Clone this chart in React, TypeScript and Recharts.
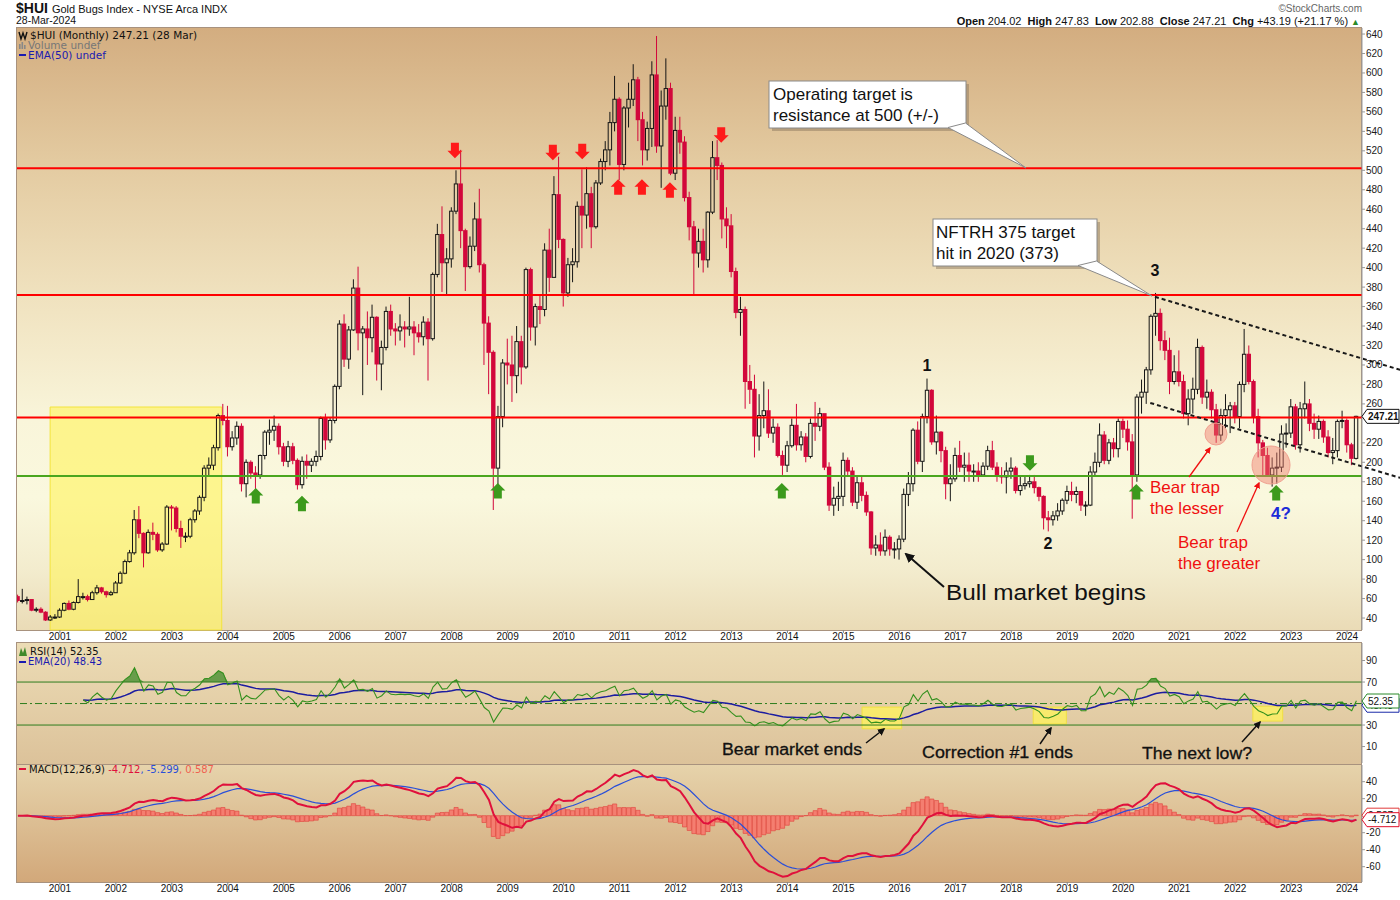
import React from "react";
import {
  ComposedChart, Bar, Line, Area, XAxis, YAxis, ReferenceLine, ReferenceArea, ReferenceDot,
} from "recharts";

// monthly candles, Apr 2000 .. Mar 2024 (open = previous close)
const START_YEAR = 2000;
const START_MONTH = 3; // April
const FIRST_OPEN = 62;

const close = [
  58, 58, 59, 48, 49, 46, 38, 41, 41, // 2000 (Apr-Dec)
  48, 55, 49, 56, 62, 62, 59, 66, 71, 67, 64, 66, // 2001
  76, 86, 98, 107, 141, 127, 107, 128, 126, 110, 116, 154, // 2002
  153, 132, 124, 124, 141, 150, 164, 194, 197, 215, 248, 243, // 2003
  216, 225, 237, 178, 200, 189, 187, 207, 231, 233, 237, 216, // 2004
  201, 216, 202, 177, 201, 197, 201, 206, 245, 223, 243, 278, // 2005
  342, 306, 336, 379, 333, 337, 328, 349, 301, 318, 355, 337, // 2006
  335, 339, 337, 339, 333, 329, 344, 327, 393, 434, 405, 409, // 2007
  458, 486, 438, 401, 422, 450, 403, 343, 313, 194, 247, 302, // 2008
  300, 289, 324, 298, 398, 339, 360, 357, 418, 390, 475, 429, // 2009
  374, 403, 406, 463, 454, 476, 442, 487, 509, 521, 549, 573, // 2010
  506, 564, 573, 593, 552, 521, 543, 598, 525, 566, 584, 497, // 2011
  541, 529, 472, 442, 415, 427, 408, 457, 513, 505, 450, 443, // 2012
  396, 354, 357, 283, 275, 227, 248, 253, 230, 236, 207, 197, // 2013
  217, 238, 218, 226, 206, 240, 237, 250, 195, 156, 163, 165, // 2014
  202, 191, 159, 179, 166, 149, 112, 115, 109, 123, 111, 111, // 2015
  121, 167, 178, 233, 201, 247, 274, 221, 231, 212, 178, 183, // 2016
  207, 195, 197, 191, 191, 187, 196, 212, 195, 186, 185, 191, // 2017
  194, 171, 176, 178, 180, 174, 165, 143, 141, 145, 150, 161, // 2018
  170, 167, 170, 156, 156, 190, 200, 228, 202, 220, 214, 242, // 2019
  234, 221, 187, 267, 272, 295, 350, 353, 325, 315, 283, 293, // 2020
  283, 250, 265, 275, 318, 267, 272, 254, 228, 248, 254, 258, // 2021
  247, 280, 311, 283, 247, 220, 207, 187, 194, 195, 229, 230, // 2022
  257, 218, 255, 260, 240, 234, 242, 226, 210, 212, 242, 243, // 2023
  218, 204.02, 247.21, // 2024
];

const high = [
  64, 70, 62, 59, 51, 51, 47, 43, 44,
  50, 56, 58, 57, 80, 66, 64, 68, 74, 72, 68, 68,
  78, 88, 100, 110, 151, 155, 128, 131, 138, 128, 118, 156,
  156, 155, 140, 128, 143, 152, 166, 197, 205, 218, 250, 260,
  258, 232, 242, 240, 203, 202, 196, 208, 233, 244, 248, 240,
  220, 222, 220, 204, 206, 208, 204, 212, 247, 250, 246, 280,
  346, 352, 340, 388, 401, 340, 355, 362, 350, 325, 360, 362,
  343, 352, 345, 370, 345, 342, 350, 348, 395, 445, 463, 420,
  462, 500, 521, 440, 432, 467, 481, 405, 350, 315, 258, 306,
  327, 330, 340, 330, 400, 400, 363, 372, 425, 440, 494, 514,
  430, 410, 420, 468, 501, 503, 483, 490, 512, 530, 560, 597,
  575, 566, 590, 609, 596, 560, 550, 612, 638, 582, 615, 590,
  555, 555, 535, 478, 448, 440, 440, 458, 530, 531, 508, 462,
  455, 400, 370, 360, 300, 290, 270, 283, 275, 245, 240, 212,
  222, 245, 260, 232, 230, 245, 262, 256, 248, 200, 175, 180,
  210, 205, 195, 185, 185, 170, 150, 125, 128, 131, 125, 118,
  125, 173, 190, 235, 242, 250, 286, 275, 248, 232, 216, 198,
  215, 222, 210, 210, 198, 200, 200, 217, 222, 200, 195, 200,
  205, 196, 185, 185, 187, 187, 175, 166, 150, 150, 158, 163,
  176, 180, 175, 170, 160, 196, 210, 240, 232, 224, 225, 245,
  245, 243, 229, 270, 285, 298, 352, 374, 358, 335, 328, 310,
  315, 290, 275, 287, 327, 320, 285, 275, 260, 255, 270, 262,
  262, 283, 337, 320, 285, 255, 223, 215, 205, 210, 238, 240,
  265, 260, 262, 283, 265, 250, 248, 244, 233, 225, 244, 253,
  245, 220, 247.83,
];

const low = [
  56, 55, 54, 47, 46, 45, 37, 37, 39,
  40, 47, 48, 48, 55, 59, 57, 59, 64, 65, 61, 63,
  66, 75, 85, 97, 105, 122, 92, 106, 120, 108, 108, 115,
  130, 128, 112, 118, 122, 138, 146, 160, 185, 192, 212, 238,
  206, 212, 218, 170, 164, 183, 172, 183, 203, 218, 222, 208,
  196, 195, 198, 172, 173, 183, 190, 196, 202, 213, 220, 240,
  275, 298, 296, 335, 315, 269, 300, 313, 284, 274, 315, 330,
  320, 325, 318, 330, 310, 323, 320, 284, 325, 390, 375, 372,
  400, 455, 420, 376, 399, 417, 395, 300, 270, 151, 164, 236,
  280, 262, 271, 280, 296, 325, 320, 342, 350, 375, 390, 420,
  360, 370, 385, 400, 420, 440, 420, 440, 485, 500, 505, 540,
  490, 500, 544, 566, 530, 505, 510, 524, 518, 482, 552, 495,
  490, 517, 468, 428, 372, 400, 395, 400, 455, 490, 430, 420,
  390, 348, 330, 255, 260, 205, 212, 235, 225, 220, 205, 187,
  190, 215, 212, 212, 200, 204, 222, 232, 192, 150, 145, 150,
  155, 185, 155, 152, 160, 145, 105, 104, 104, 104, 104, 101,
  100, 118, 155, 170, 198, 190, 240, 218, 208, 200, 162, 160,
  180, 190, 180, 180, 180, 180, 185, 192, 192, 180, 178, 168,
  183, 168, 166, 172, 174, 168, 160, 131, 129, 135, 140, 146,
  157, 160, 158, 150, 145, 155, 185, 195, 198, 198, 205, 205,
  225, 212, 142, 180, 250, 260, 290, 330, 315, 305, 270, 280,
  278, 245, 238, 250, 270, 260, 255, 245, 220, 222, 235, 230,
  240, 235, 272, 280, 240, 205, 185, 186, 175, 178, 190, 215,
  225, 213, 210, 245, 232, 224, 224, 220, 205, 198, 205, 235,
  210, 197, 202.88,
];

// axis ticks (the boxed values are the last readings)
const priceTicks = [40, 60, 80, 100, 120, 140, 160, 180, 200, 220, 260, 280, 300, 320, 340, 360, 380, 400,
  420, 440, 460, 480, 500, 520, 540, 560, 580, 600, 620, 640, 247.21];
const rsiTicks = [10, 30, 70, 90, 48.43, 52.35];
const macdTicks = [-60, -40, -20, 20, 40, 0.587, -4.712];

// horizontal support / resistance levels
const redLevels = [502, 372, 246];
const greenLevel = 186;

// marker arrows: [month index, price]
const redDownArrows = [[93.7, 520], [114.7, 518], [121, 519], [150.8, 536]];
const redUpArrows = [[128.7, 483], [133.8, 483], [139.8, 480]];
const greenUpArrows = [[51, 166], [60.9, 158], [102.9, 171], [163.8, 171], [239.8, 170], [269.8, 169]];
const greenDownArrows = [[217, 199]];

// dashed trend channel: [month, price] pairs
const upperTrend = [[243.8, 370], [296.4, 295]];
const lowerTrend = [[242.8, 261], [296.4, 184]];

const X_DOMAIN: [number, number] = [-0.2, 288.2];
const AXIS_FONT = "'Liberation Sans', Arial, sans-serif";
const LEGEND_FONT = "'DejaVu Sans', Verdana, sans-serif";

function emaOf(values: (number | null)[], n: number) {
  const k = 2 / (n + 1);
  let prev: number | null = null;
  return values.map((v) => {
    if (v == null) return null;
    prev = prev == null ? v : v * k + prev * (1 - k);
    return prev;
  });
}

function rsiOf(c: number[], n: number) {
  const out: (number | null)[] = c.map(() => null);
  let ag = 0;
  let al = 0;
  for (let i = 1; i < c.length; i++) {
    const d = c[i] - c[i - 1];
    const g = Math.max(d, 0);
    const l = Math.max(-d, 0);
    if (i <= n) {
      ag += g / n;
      al += l / n;
    } else {
      ag = (ag * (n - 1) + g) / n;
      al = (al * (n - 1) + l) / n;
    }
    if (i >= n) out[i] = al === 0 ? 100 : 100 - 100 / (1 + ag / al);
  }
  return out;
}

const rsi = rsiOf(close, 14);
const rsiEma = emaOf(rsi, 20);
const ema12 = emaOf(close, 12);
const ema26 = emaOf(close, 26);
const macd = close.map((_, i) => (ema12[i] as number) - (ema26[i] as number));
const signal = emaOf(macd, 9);
const hist = macd.map((m, i) => m - (signal[i] as number));

const rows = close.map((c, i) => {
  const open = i === 0 ? FIRST_OPEN : close[i - 1];
  return {
    i,
    open,
    close: c,
    high: Math.max(high[i], open, c),
    low: Math.min(low[i], open, c),
    rsi: rsi[i],
    rsiEma: rsiEma[i],
    macd: macd[i],
    signal: signal[i],
    hist: hist[i],
  };
});

const monthOf = (i: number) => (START_MONTH + i) % 12;
const yearOf = (i: number) => START_YEAR + Math.floor((START_MONTH + i) / 12);
const yearTicks = rows.filter((r) => monthOf(r.i) === 0).map((r) => r.i);

function Candle(props: any) {
  const { x, y, width, height, payload } = props;
  if (!payload || x == null) return null;
  const top = Math.min(y, y + height);
  const h = Math.abs(height);
  const { open, close: c, high: hi, low: lo } = payload;
  const per = hi > lo ? h / (hi - lo) : 0;
  const py = (v: number) => top + (hi - v) * per;
  const cx = x + width / 2;
  const up = c >= open;
  const color = up ? "#151515" : "#d2073b";
  const bTop = py(Math.max(open, c));
  const bh = Math.max(py(Math.min(open, c)) - bTop, 1);
  const bw = 3.4;
  return (
    <g>
      <line x1={cx} x2={cx} y1={top} y2={bTop} stroke={color} strokeWidth={1} />
      <line x1={cx} x2={cx} y1={bTop + bh} y2={top + h} stroke={color} strokeWidth={1} />
      {up ? (
        <rect x={cx - bw / 2} y={bTop} width={bw} height={bh} fill="none" stroke={color} strokeWidth={1} />
      ) : (
        <rect x={cx - bw / 2 - 0.5} y={bTop - 0.5} width={bw + 1} height={bh + 1} fill={color} />
      )}
    </g>
  );
}

const arrowShape = (dir: "up" | "down", color: string) => (p: any) => {
  const { cx, cy } = p;
  const s = dir === "down" ? 1 : -1;
  const pts = [
    [cx - 4, cy - 8 * s], [cx + 4, cy - 8 * s], [cx + 4, cy], [cx + 7.5, cy],
    [cx, cy + 7.5 * s], [cx - 7.5, cy], [cx - 4, cy],
  ];
  return <polygon points={pts.map((q) => q.join(",")).join(" ")} fill={color} />;
};

type Box = { stroke: string; bold?: boolean };
function makeAxisTick(boxes: Record<string, Box>) {
  return (props: any) => {
    const { x, y, payload } = props;
    const key = String(payload.value);
    const box = boxes[key];
    if (box) {
      const x0 = x - 4;
      return (
        <g>
          <polygon
            points={`${x0},${y} ${x0 + 5},${y - 7} ${x0 + 37},${y - 7} ${x0 + 37},${y + 7} ${x0 + 5},${y + 7}`}
            fill="#fff" stroke={box.stroke} strokeWidth={1}
          />
          <text x={x0 + 6} y={y + 3.6} fontSize={10} fontWeight={box.bold ? 700 : 400} fill="#111" fontFamily={AXIS_FONT}>
            {key}
          </text>
        </g>
      );
    }
    return (
      <text x={x} y={y + 3.5} fontSize={10} fill="#1a1a1a" fontFamily={AXIS_FONT}>
        {key}
      </text>
    );
  };
}

const priceTick = makeAxisTick({ "247.21": { stroke: "#111", bold: true } });
const rsiTick = makeAxisTick({ "48.43": { stroke: "#1a2aa8" }, "52.35": { stroke: "#2a8a2a" } });
const macdTick = makeAxisTick({ "0.587": { stroke: "#e03a3a" }, "-4.712": { stroke: "#e0102a" } });

const xAxisProps = {
  dataKey: "i",
  type: "number" as const,
  domain: X_DOMAIN,
  allowDataOverflow: true,
  ticks: yearTicks,
  tickFormatter: (v: number) => String(yearOf(v)),
  interval: 0 as const,
  axisLine: false,
  tickSize: 3,
  tickMargin: 0,
  stroke: "#888",
  tick: { fontSize: 10, fill: "#111", fontFamily: AXIS_FONT },
};

const panel = (top: number, height: number, bg: string): React.CSSProperties => ({
  position: "absolute",
  left: 16,
  top,
  width: 1346,
  height,
  background: bg,
  border: "1px solid #a8927e",
  boxSizing: "border-box",
});

export default function App() {
  return (
    <div style={{ position: "absolute", left: 0, top: 0, width: 1400, height: 900, background: "#fff", fontFamily: AXIS_FONT, overflow: "hidden" }}>
      {/* header */}
      <div style={{ position: "absolute", left: 16, top: 1, whiteSpace: "nowrap", color: "#111", lineHeight: "13px", height: 13 }}>
        <span style={{ fontSize: 14, fontWeight: 700 }}>$HUI</span>
        <span style={{ fontSize: 11, marginLeft: 4 }}>Gold Bugs Index - NYSE Arca INDX</span>
      </div>
      <div style={{ position: "absolute", left: 16, top: 15, fontSize: 10.5, lineHeight: "11px", color: "#111" }}>28-Mar-2024</div>
      <div style={{ position: "absolute", right: 38, top: 3, fontSize: 10, lineHeight: "11px", color: "#666" }}>©StockCharts.com</div>
      <div style={{ position: "absolute", right: 40, top: 15, fontSize: 11, lineHeight: "12px", color: "#111", whiteSpace: "nowrap" }}>
        <b>Open</b> 204.02&nbsp; <b>High</b> 247.83&nbsp; <b>Low</b> 202.88&nbsp; <b>Close</b> 247.21&nbsp; <b>Chg</b> +43.19 (+21.17 %)
        <span style={{ color: "#2a8a2a", fontSize: 9, marginLeft: 3 }}>▲</span>
      </div>

      {/* panel backgrounds */}
      <div style={panel(27, 604, "linear-gradient(#d3ad80 0%, #e3caa0 22%, #f0e2bf 45%, #f9f5da 65%, #faf8de 78%, #f3ecce 90%, #eadbb6 100%)")} />
      <div style={panel(642, 123, "linear-gradient(#ecdcb5, #dcc29a)")} />
      <div style={panel(764, 119, "linear-gradient(#e6d3ab, #d2a87a)")} />

      {/* main price panel */}
      <div style={{ position: "absolute", left: 0, top: 0 }}>
        <ComposedChart width={1400} height={645} data={rows} margin={{ top: 28, right: 0, bottom: 0, left: 17 }}>
          <XAxis {...xAxisProps} height={15} />
          <YAxis
            orientation="right" width={38} domain={[27.7, 646.2]} allowDataOverflow
            ticks={priceTicks} interval={0} tick={priceTick} tickSize={3} tickMargin={1} stroke="#999"
          />
          <ReferenceArea x1={6.9} x2={43.7} y1={27.7} y2={256.8} fill="#fff35a" fillOpacity={0.6} stroke="#f3e43c" strokeWidth={1} />
          {redLevels.map((v) => (
            <ReferenceLine key={v} y={v} stroke="#ff0000" strokeWidth={2} />
          ))}
          <ReferenceLine y={greenLevel} stroke="#4aa61e" strokeWidth={2} />
          <Bar dataKey={(d: any) => [d.low, d.high]} barSize={4} shape={Candle} isAnimationActive={false} />
          <ReferenceLine
            segment={[{ x: upperTrend[0][0], y: upperTrend[0][1] }, { x: upperTrend[1][0], y: upperTrend[1][1] }]}
            stroke="#1a1a1a" strokeWidth={2} strokeDasharray="4 3" ifOverflow="visible"
          />
          <ReferenceLine
            segment={[{ x: lowerTrend[0][0], y: lowerTrend[0][1] }, { x: lowerTrend[1][0], y: lowerTrend[1][1] }]}
            stroke="#1a1a1a" strokeWidth={2} strokeDasharray="4 3" ifOverflow="visible"
          />
          {redDownArrows.map(([m, p], k) => (
            <ReferenceDot key={"rd" + k} x={m} y={p} r={1} shape={arrowShape("down", "#ff1a1a")} ifOverflow="visible" />
          ))}
          {redUpArrows.map(([m, p], k) => (
            <ReferenceDot key={"ru" + k} x={m} y={p} r={1} shape={arrowShape("up", "#ff1a1a")} ifOverflow="visible" />
          ))}
          {greenUpArrows.map(([m, p], k) => (
            <ReferenceDot key={"gu" + k} x={m} y={p} r={1} shape={arrowShape("up", "#3c9a1c")} ifOverflow="visible" />
          ))}
          {greenDownArrows.map(([m, p], k) => (
            <ReferenceDot key={"gd" + k} x={m} y={p} r={1} shape={arrowShape("down", "#3c9a1c")} ifOverflow="visible" />
          ))}
        </ComposedChart>
      </div>

      {/* RSI panel */}
      <div style={{ position: "absolute", left: 0, top: 643 }}>
        <ComposedChart width={1400} height={120} data={rows} margin={{ top: 0, right: 0, bottom: 0, left: 17 }}>
          <XAxis {...xAxisProps} hide />
          <YAxis
            orientation="right" width={38} domain={[-5.3, 106.3]} allowDataOverflow
            ticks={rsiTicks} interval={0} tick={rsiTick} tickSize={3} tickMargin={1} stroke="#999"
          />
          <ReferenceArea x1={181} x2={189.5} y1={26.5} y2={46.7} fill="#fff35a" fillOpacity={0.75} stroke="#f0e040" />
          <ReferenceArea x1={217.7} x2={224.8} y1={31} y2={46.7} fill="#fff35a" fillOpacity={0.75} stroke="#f0e040" />
          <ReferenceArea x1={264.8} x2={271.2} y1={33.7} y2={47.5} fill="#fff35a" fillOpacity={0.75} stroke="#f0e040" />
          <ReferenceLine y={70} stroke="#2d7d1d" strokeWidth={1} />
          <ReferenceLine y={30} stroke="#2d7d1d" strokeWidth={1} />
          <ReferenceLine y={50} stroke="#2d7d1d" strokeWidth={1} strokeDasharray="7 3 2 3" />
          <Area
            dataKey={(d: any) => (d.rsi == null ? null : [70, Math.max(70, d.rsi)])}
            type="linear" stroke="none" fill="#3f8a2a" fillOpacity={0.75} isAnimationActive={false}
          />
          <Area
            dataKey={(d: any) => (d.rsi == null ? null : [Math.min(30, d.rsi), 30])}
            type="linear" stroke="none" fill="#3f8a2a" fillOpacity={0.75} isAnimationActive={false}
          />
          <Line dataKey="rsiEma" type="linear" stroke="#1c1ca0" strokeWidth={1.5} dot={false} isAnimationActive={false} />
          <Line dataKey="rsi" type="linear" stroke="#34901e" strokeWidth={1.1} dot={false} isAnimationActive={false} />
        </ComposedChart>
      </div>

      {/* MACD panel */}
      <div style={{ position: "absolute", left: 0, top: 765 }}>
        <ComposedChart width={1400} height={133} data={rows} margin={{ top: 0, right: 0, bottom: 0, left: 17 }}>
          <XAxis {...xAxisProps} height={16} />
          <YAxis
            orientation="right" width={38} domain={[-78, 59.6]} allowDataOverflow
            ticks={macdTicks} interval={0} tick={macdTick} tickSize={3} tickMargin={1} stroke="#999"
          />
          <Bar dataKey="hist" barSize={4.7} fill="#f47e70" stroke="#e0403a" strokeWidth={0.6} isAnimationActive={false} />
          <Line dataKey="signal" type="linear" stroke="#2a4fd8" strokeWidth={1.2} dot={false} isAnimationActive={false} />
          <Line dataKey="macd" type="linear" stroke="#e0103c" strokeWidth={2} dot={false} isAnimationActive={false} />
        </ComposedChart>
      </div>

      {/* legends and annotations */}
      <svg width={1400} height={900} style={{ position: "absolute", left: 0, top: 0, pointerEvents: "none" }}>
        <defs>
          <marker id="hBlack" viewBox="0 0 10 10" refX="8" refY="5" markerWidth="5" markerHeight="5" orient="auto">
            <path d="M0,0 L10,5 L0,10 z" fill="#111" />
          </marker>
          <marker id="hRed" viewBox="0 0 10 10" refX="8" refY="5" markerWidth="5" markerHeight="5" orient="auto">
            <path d="M0,0 L10,5 L0,10 z" fill="#f01010" />
          </marker>
        </defs>

        {/* price legend */}
        <g fontFamily={LEGEND_FONT} fontSize={10.5}>
          <path d="M19,32 L21,39 L23,33 L25,39 L27,32" fill="none" stroke="#111" strokeWidth={1.4} />
          <text x={30} y={39} fill="#111">$HUI (Monthly) 247.21 (28 Mar)</text>
          <rect x={19} y={44} width={1.6} height={5} fill="#888" />
          <rect x={21.5} y={42} width={1.6} height={7} fill="#888" />
          <rect x={24} y={45} width={1.6} height={4} fill="#888" />
          <text x={28} y={49} fill="#777">Volume undef</text>
          <rect x={19} y={54} width={7} height={2} fill="#1a1ab0" />
          <text x={28} y={59} fill="#1a1ab0">EMA(50) undef</text>
        </g>

        {/* callouts */}
        <rect x={772} y={84} width={197} height={47} fill="#8e7a60" opacity={0.5} />
        <rect x={769} y={81} width={197} height={47} fill="#fff" stroke="#8a8a8a" />
        <polygon points="948,127.5 965.5,123 1026,168" fill="#fff" stroke="#8a8a8a" />
        <text x={773} y={100} fontSize={17} fill="#111">Operating target is</text>
        <text x={773} y={121} fontSize={17} fill="#111">resistance at 500 (+/-)</text>

        <rect x={936} y={222} width={164} height={47} fill="#8e7a60" opacity={0.5} />
        <rect x={933} y={219} width={164} height={47} fill="#fff" stroke="#8a8a8a" />
        <polygon points="1078,265.5 1096.5,261 1152,296" fill="#fff" stroke="#8a8a8a" />
        <text x={936} y={238} fontSize={17} fill="#111">NFTRH 375 target</text>
        <text x={936} y={259} fontSize={17} fill="#111">hit in 2020 (373)</text>

        {/* wave counts */}
        <g fontSize={16} fontWeight={700} fill="#111" textAnchor="middle">
          <text x={927} y={371}>1</text>
          <text x={1048} y={549}>2</text>
          <text x={1155} y={276}>3</text>
        </g>
        <text x={1281} y={519} fontSize={17} fontWeight={700} fill="#1c2bd8" textAnchor="middle">4?</text>

        {/* bear trap circles */}
        <circle cx={1216} cy={434} r={11} fill="#f07a6a" fillOpacity={0.45} stroke="#f0a090" />
        <circle cx={1271} cy={465} r={19} fill="#f07a6a" fillOpacity={0.45} stroke="#f0a090" />

        <text x={946} y={600} fontSize={22} fill="#111" textLength={200} lengthAdjust="spacingAndGlyphs">Bull market begins</text>
        <line x1={944} y1={587} x2={906} y2={554} stroke="#111" strokeWidth={2} markerEnd="url(#hBlack)" />

        <g fontSize={17} fill="#f01010">
          <text x={1150} y={493}>Bear trap</text>
          <text x={1150} y={514}>the lesser</text>
          <text x={1178} y={548}>Bear trap</text>
          <text x={1178} y={569}>the greater</text>
        </g>
        <line x1={1189} y1={477} x2={1210} y2={448} stroke="#f01010" strokeWidth={1.3} markerEnd="url(#hRed)" />
        <line x1={1237} y1={532} x2={1259} y2={483} stroke="#f01010" strokeWidth={1.3} markerEnd="url(#hRed)" />

        {/* RSI legend + notes */}
        <g fontFamily={LEGEND_FONT} fontSize={10}>
          <path d="M19,656 L21,648 L23,653 L25,647 L27,656 z" fill="#3f8a2a" />
          <text x={30} y={655} fill="#111">RSI(14) 52.35</text>
          <rect x={19} y={661} width={7} height={2} fill="#1a1ab0" />
          <text x={28} y={665} fill="#1a1ab0">EMA(20) 48.43</text>
        </g>
        <g fontSize={16} fill="#111" stroke="#111" strokeWidth={0.3}>
          <text x={722} y={755} textLength={140} lengthAdjust="spacingAndGlyphs">Bear market ends</text>
          <text x={922} y={758} textLength={151} lengthAdjust="spacingAndGlyphs">Correction #1 ends</text>
          <text x={1142} y={759} textLength={110} lengthAdjust="spacingAndGlyphs">The next low?</text>
        </g>
        <line x1={866} y1={743} x2={884} y2={729} stroke="#111" strokeWidth={1.5} markerEnd="url(#hBlack)" />
        <line x1={1040} y1={744} x2={1051} y2={728} stroke="#111" strokeWidth={1.5} markerEnd="url(#hBlack)" />
        <line x1={1242} y1={742} x2={1260} y2={722} stroke="#111" strokeWidth={1.5} markerEnd="url(#hBlack)" />

        {/* MACD legend */}
        <g fontFamily={LEGEND_FONT} fontSize={10}>
          <rect x={19} y={768} width={7} height={2} fill="#e0103c" />
          <text x={29} y={773} fill="#111">
            MACD(12,26,9) <tspan fill="#e0103c">-4.712</tspan>
            <tspan fill="#2a4fd8">, -5.299</tspan>
            <tspan fill="#f06050">, 0.587</tspan>
          </text>
        </g>
      </svg>
    </div>
  );
}
